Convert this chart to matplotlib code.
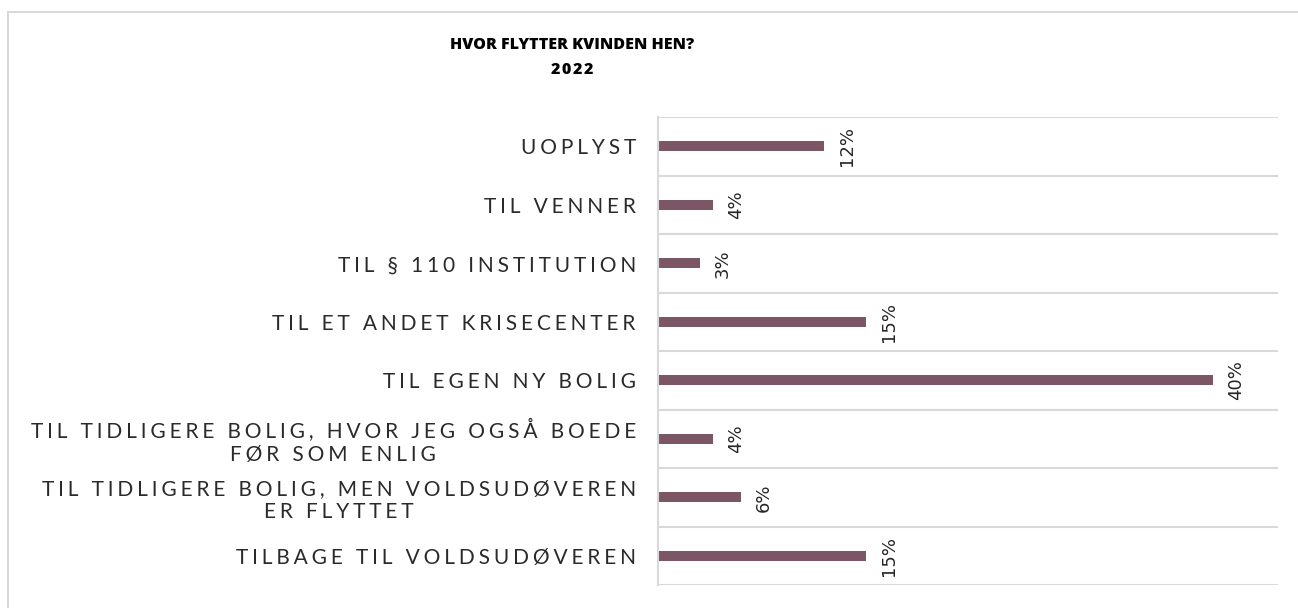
import matplotlib.pyplot as plt
from matplotlib.patches import Rectangle

categories = [
    "UOPLYST",
    "TIL VENNER",
    "TIL § 110 INSTITUTION",
    "TIL ET ANDET KRISECENTER",
    "TIL EGEN NY BOLIG",
    "TIL TIDLIGERE BOLIG, HVOR JEG OGSÅ BOEDE\nFØR SOM ENLIG",
    "TIL TIDLIGERE BOLIG, MEN VOLDSUDØVEREN\nER FLYTTET",
    "TILBAGE TIL VOLDSUDØVEREN",
]
values = [12, 4, 3, 15, 40, 4, 6, 15]

bar_color = "#7d5665"
grid_color = "#d9d9d9"


def tracked(s, gap="\u2009"):
    # wide letter spacing, kept per line
    return "\n".join(gap.join(line) for line in s.split("\n"))


fig = plt.figure(figsize=(12.98, 6.08), dpi=100)
fig.patch.set_facecolor("white")

# light frame round the chart
fig.patches.append(Rectangle((8 / 1298, -0.1), 1.2, 1.1 - 12 / 608,
                             transform=fig.transFigure, fill=False,
                             edgecolor="#d9d9d9", linewidth=1.5))

ax = fig.add_axes([658 / 1298, 1 - 585 / 608, 620 / 1298, 468 / 608])

pos = list(range(len(categories)))
ax.barh(pos, values, height=0.17, color=bar_color)
ax.set_ylim(len(categories) - 0.5, -0.5)
ax.set_xlim(0, 44.7)

ax.set_yticks(pos)
ax.set_yticklabels([tracked(c, "\u2009\u200a") for c in categories], fontsize=15,
                   color="#2a2a2a", family=["Lato", "DejaVu Sans"], fontweight="normal",
                   multialignment="center", linespacing=1.2)
ax.tick_params(axis="y", length=0, pad=16)
ax.set_xticks([])

# separators between categories
ax.set_yticks([p - 0.5 for p in pos] + [len(pos) - 0.5], minor=True)
ax.tick_params(axis="y", which="minor", length=0)
ax.grid(axis="y", which="minor", color=grid_color, linewidth=1.5)
ax.grid(axis="y", which="major", visible=False)

for side in ["top", "right", "bottom"]:
    ax.spines[side].set_visible(False)
ax.spines["left"].set_color(grid_color)
ax.spines["left"].set_linewidth(1.5)

for p, v in zip(pos, values):
    ax.annotate(f"{v}%", (v, p), xytext=(10, 0), textcoords="offset points",
                rotation=90, ha="left", va="center", fontsize=13, color="#262626")

title_kw = dict(ha="center", va="center", fontsize=11.5, fontweight="heavy",
                color="black", family=["Open Sans", "DejaVu Sans"], fontstretch="condensed")
fig.text(572 / 1298, 1 - 45 / 608, "HVOR FLYTTER KVINDEN HEN?", **title_kw)
fig.text(572 / 1298, 1 - 70 / 608, tracked("2022", "\u200a"), **title_kw)

fig.savefig("out.png", dpi=100)
